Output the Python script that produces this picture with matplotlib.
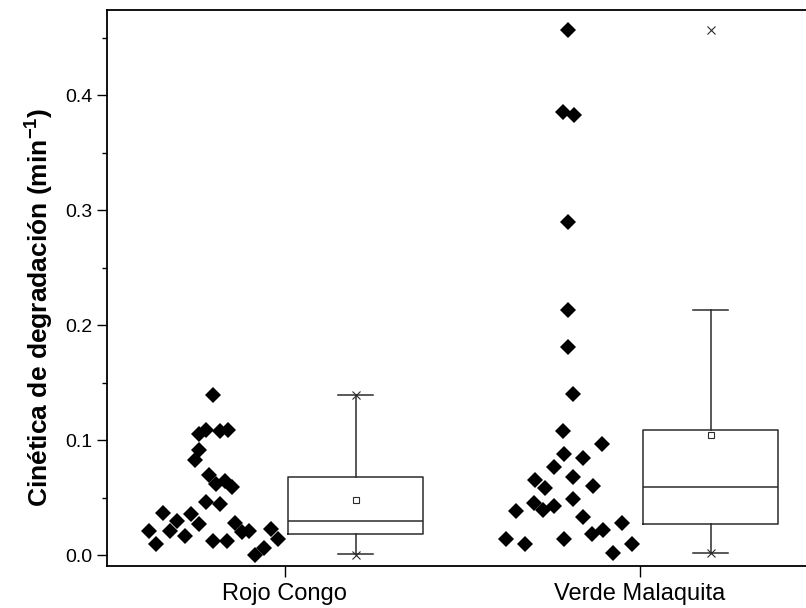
import numpy as np
import matplotlib
matplotlib.use("Agg")
import matplotlib.pyplot as plt
from matplotlib.ticker import MultipleLocator, FormatStrFormatter

plt.rcParams['font.family'] = ['Liberation Sans', 'DejaVu Sans']
plt.rcParams['mathtext.fontset'] = 'custom'
plt.rcParams['mathtext.rm'] = 'Liberation Sans'
plt.rcParams['mathtext.bf'] = 'Liberation Sans:bold'

categories = ["Rojo Congo", "Verde Malaquita"]

# Degradation rate constants (min^-1) for each dye
rojo_congo = [0.139, 0.105, 0.109, 0.108, 0.109, 0.091, 0.083, 0.070, 0.062, 0.064,
              0.059, 0.046, 0.044, 0.037, 0.036, 0.030, 0.027, 0.021, 0.021, 0.010,
              0.017, 0.012, 0.012, 0.028, 0.020, 0.021, 0.023, 0.014, 0.000, 0.006]
verde_malaquita = [0.457, 0.385, 0.383, 0.290, 0.213, 0.181, 0.140, 0.108, 0.097, 0.088,
                   0.084, 0.077, 0.065, 0.058, 0.068, 0.060, 0.045, 0.039, 0.043, 0.049,
                   0.038, 0.033, 0.018, 0.022, 0.028, 0.014, 0.010, 0.014, 0.002, 0.010]

# Horizontal spread of the individual points around each scatter column
jitter_rc = [-0.001, -0.042, -0.021, 0.019, 0.040, -0.042, -0.051, -0.012, 0.007, 0.032,
             0.051, -0.021, 0.019, -0.141, -0.062, -0.103, -0.042, -0.122, -0.181, -0.162,
             -0.079, -0.002, 0.038, 0.060, 0.080, 0.099, 0.161, 0.182, 0.118, 0.142]
jitter_vm = [-0.001, -0.016, 0.016, -0.001, -0.001, -0.001, 0.013, -0.015, 0.095, -0.013,
             0.041, -0.041, -0.095, -0.067, 0.014, 0.069, -0.097, -0.072, -0.041, 0.014,
             -0.149, 0.041, 0.067, 0.097, 0.150, -0.177, -0.123, -0.013, 0.124, 0.178]

# Box statistics (25/50/75 percentiles, mean, 1.5 IQR whiskers)
box_q1 = [0.018, 0.027]
box_median = [0.030, 0.059]
box_q3 = [0.068, 0.109]
box_mean = [0.048, 0.104]
whisker_low = [0.001, 0.002]
whisker_high = [0.139, 0.213]

series = [rojo_congo, verde_malaquita]
jitters = [jitter_rc, jitter_vm]

fig = plt.figure(figsize=(8.06, 6.08), dpi=100)
ax = fig.add_axes([107 / 806, 1 - 566 / 608, (817 - 107) / 806, (566 - 9.5) / 608])

ink = "#2b2b2b"
positions = np.arange(1, len(categories) + 1)
scatter_off = -0.2
box_off = 0.2

for pos, vals, jit in zip(positions, series, jitters):
    ax.plot(pos + scatter_off + np.asarray(jit), vals, linestyle="none",
            marker="D", markersize=7.8, color="black", markeredgewidth=0,
            zorder=3)

stats = []
for i in range(len(categories)):
    stats.append(dict(q1=box_q1[i], med=box_median[i], q3=box_q3[i],
                      mean=box_mean[i], whislo=whisker_low[i],
                      whishi=whisker_high[i], fliers=[]))

line_kw = dict(color=ink, linewidth=1.1)
ax.bxp(stats, positions=positions + box_off, widths=0.38, capwidths=0.1,
       showmeans=True, showfliers=False, patch_artist=False,
       boxprops=line_kw, whiskerprops=line_kw, capprops=line_kw,
       medianprops=line_kw,
       meanprops=dict(marker="s", markersize=5, markerfacecolor="white",
                      markeredgecolor=ink, markeredgewidth=0.8))

# Minimum and maximum of each series
for pos, vals in zip(positions, series):
    ax.plot([pos + box_off] * 2, [min(vals), max(vals)], linestyle="none",
            marker="x", markersize=6, markeredgewidth=0.8, color=ink, zorder=4)

ax.set_xlim(0.5, 2.5)
ax.set_ylim(-0.0095, 0.4744)
ax.set_xticks(positions)
ax.set_xticklabels(categories, fontsize=17)
ax.yaxis.set_major_locator(MultipleLocator(0.1))
ax.yaxis.set_minor_locator(MultipleLocator(0.05))
ax.yaxis.set_major_formatter(FormatStrFormatter("%.1f"))
ax.tick_params(axis="y", which="major", direction="out", length=7.5, width=1.0,
               labelsize=14, pad=3)
ax.tick_params(axis="y", which="minor", direction="out", length=3.8, width=1.0)
ax.tick_params(axis="x", which="major", direction="out", length=8, width=1.0,
               labelsize=17, pad=4)
for side in ["left", "bottom", "top", "right"]:
    ax.spines[side].set_linewidth(1.3)

ax.set_ylabel("Cinética de degradación (min$^{\\mathbf{-1}}$)", fontsize=19,
              fontweight="bold")
ax.yaxis.set_label_coords(-0.073, 0.465)

fig.savefig("out.png", dpi=100)
